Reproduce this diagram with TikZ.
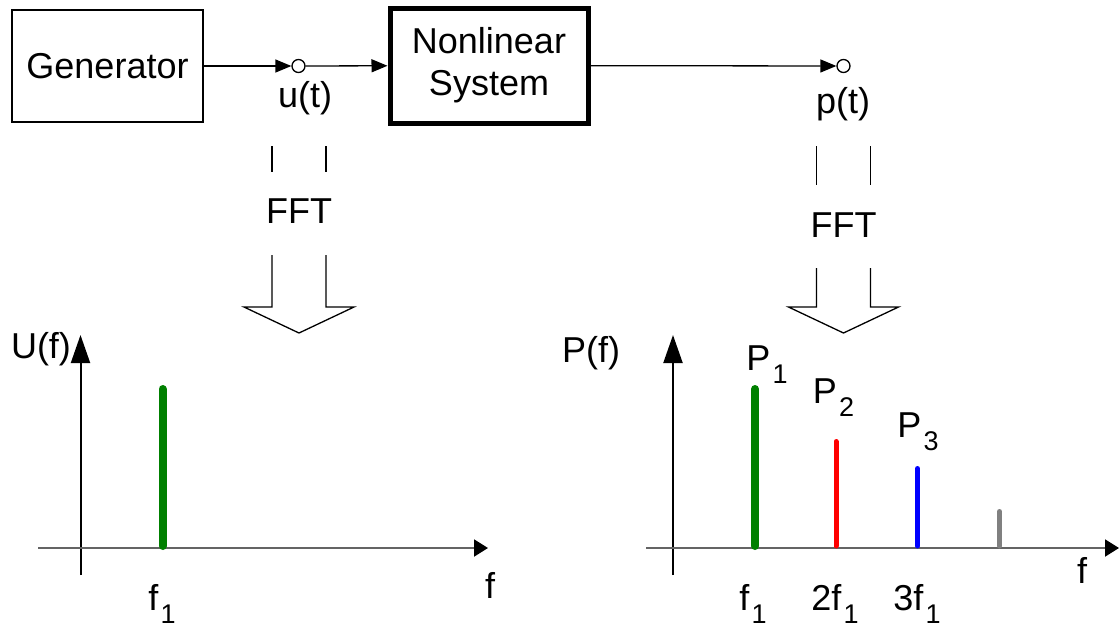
\documentclass[tikz,border=0pt]{standalone}
\usepackage{fontspec}
\setmainfont{Liberation Sans}
\usetikzlibrary{arrows.meta}
\definecolor{specgreen}{RGB}{0,128,0}
\definecolor{axisgray}{RGB}{100,100,100}
\newcommand{\lowsub}[1]{\kern1.2pt\raisebox{-6.5pt}{\fontsize{13.5}{15}\selectfont #1}}

\begin{document}
\begin{tikzpicture}[x=0.5pt,y=-0.5pt,
    every node/.style={font=\fontsize{18}{21}\selectfont, inner sep=0pt},
    thinline/.style={line width=0.65pt},
    tip/.style={-{Triangle[length=8pt,width=6.5pt]}},
    yaxis/.style={line width=1pt, -{Triangle[length=14pt,width=9.5pt]}},
    xaxis/.style={line width=1pt, axisgray, -{Triangle[length=7pt,width=8.5pt,color=black]}},
    bar/.style={line cap=round, line width=#1}]
    \useasboundingbox (0,0) rectangle (1120,628);

    \node[draw, line width=0.75pt, minimum width=95.5pt, minimum height=56pt] (G) at (107.5,66) {Generator};
    \node[draw, line width=2.5pt, minimum width=99pt, minimum height=57.5pt, align=center] (NS) at (489,65.5) {Nonlinear\\System};
    \node[circle, draw, thinline, minimum size=6.5pt] (u) at (298.5,66) {};
    \node[circle, draw, thinline, minimum size=6.5pt] (p) at (843.5,66) {};

    \draw[thinline, tip] (G) -- (u);
    \draw[thinline, tip] (u) -- (NS);
    \draw[thinline, tip] (NS) -- (p);

    \node[anchor=base] (ut) at (305,107) {u(t)};
    \node[anchor=base] (pt) at (843,113) {p(t)};

    \foreach \x/\a/\b/\t in {299/172/255/223, 843.5/185/268/237} {
        \node[anchor=base] (fft\x) at (\x,\t) {FFT};
        \draw[thinline] (\x-27,146) -- (\x-27,\a) (\x+27,146) -- (\x+27,\a);
        \draw[thinline] (\x-27,\b) -- (\x-27,307) -- (\x-55,307) -- (\x,333)
            -- (\x+55,307) -- (\x+27,307) -- (\x+27,\b);
    }

    \draw[yaxis] (80.5,575) -- (80.5,335);
    \draw[xaxis] (38,548) -- (488,548);
    \draw[bar=4pt, specgreen] (162.5,546) -- (162.5,389);
    \node[anchor=base] (Uf) at (41,358) {U(f)};
    \node[anchor=base] (fU) at (490,598) {f};
    \node[anchor=base] (f1U) at (162,610) {f\lowsub{1}};

    \draw[yaxis] (673,575) -- (673,335);
    \draw[xaxis] (646,548) -- (1119,548);
    \draw[bar=4pt, specgreen] (755,546) -- (755,389);
    \draw[bar=2.5pt, red] (836,546) -- (836,441.5);
    \draw[bar=2.5pt, blue] (917.5,546) -- (917.5,468.5);
    \draw[bar=2.5pt, gray] (999.5,546) -- (999.5,511.5);
    \node[anchor=base] (Pf) at (591,362) {P(f)};
    \node[anchor=base] (P1) at (767,370) {P\lowsub{1}};
    \node[anchor=base] (P2) at (833.5,403) {P\lowsub{2}};
    \node[anchor=base] (P3) at (918,437) {P\lowsub{3}};
    \node[anchor=base] (fP) at (1082,583) {f};
    \node[anchor=base] (f1P) at (753,610) {f\lowsub{1}};
    \node[anchor=base] (f2P) at (835,610) {2f\lowsub{1}};
    \node[anchor=base] (f3P) at (917,610) {3f\lowsub{1}};
\end{tikzpicture}
\end{document}
